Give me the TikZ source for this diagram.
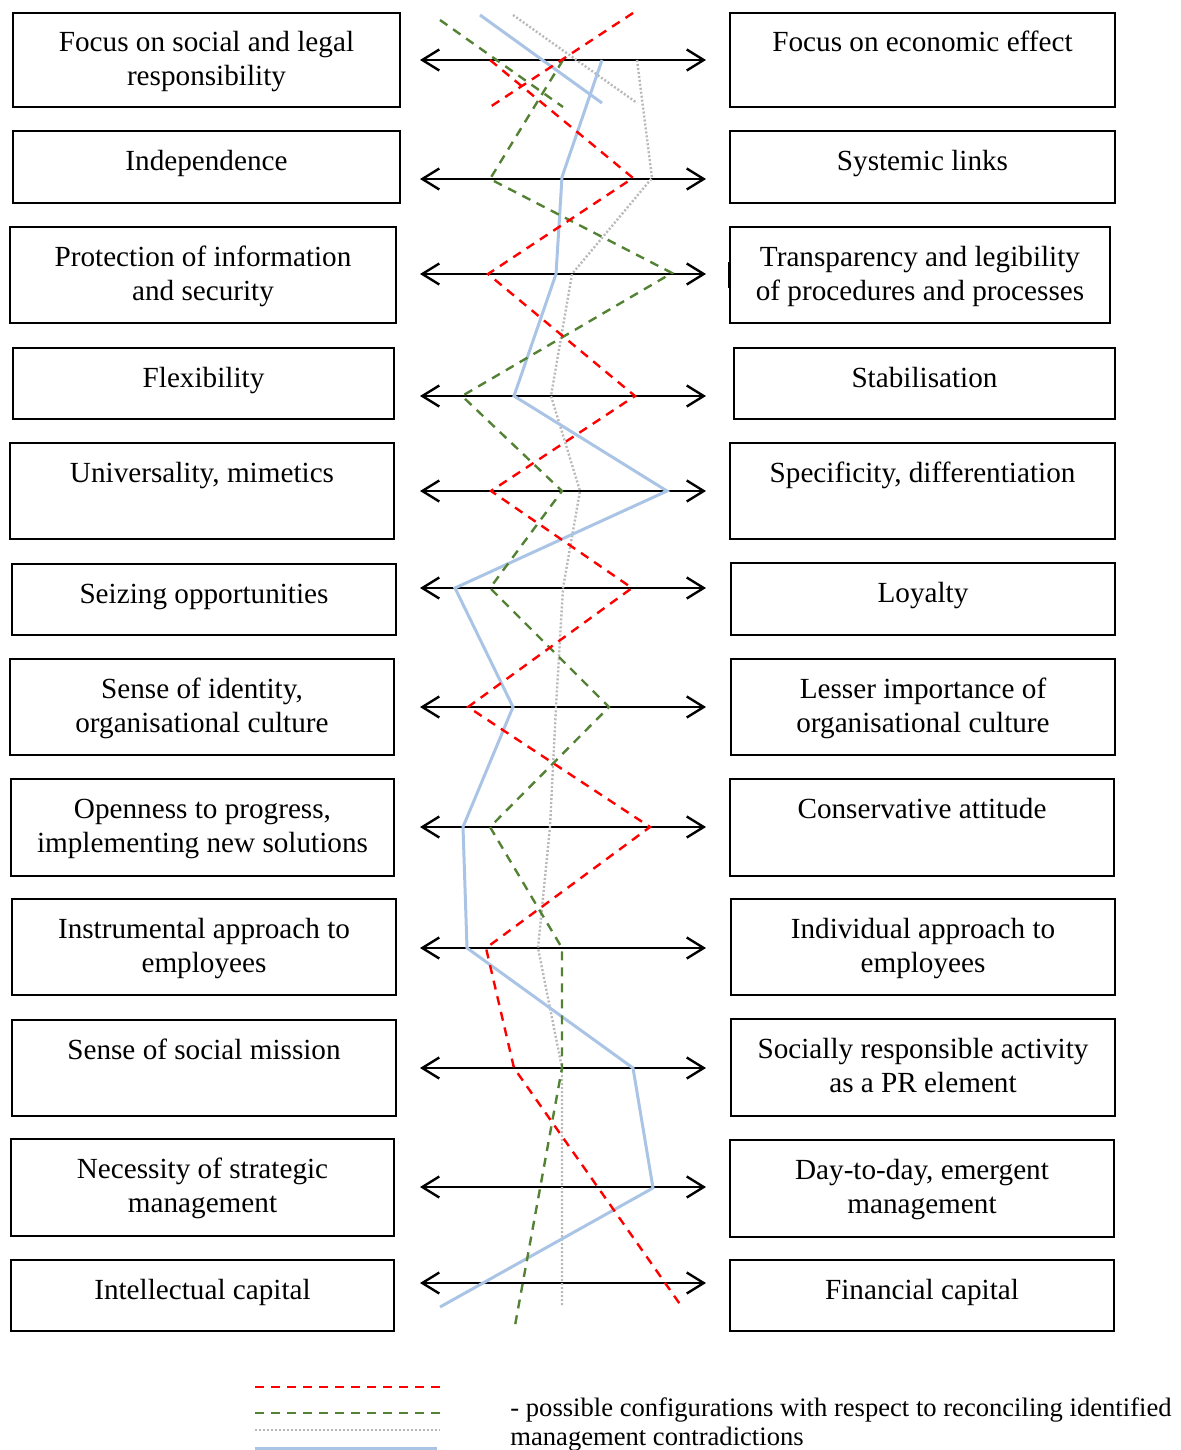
\documentclass[tikz,border=0pt]{standalone}
\usepackage{fontspec}
\setmainfont{Liberation Serif}
\usetikzlibrary{arrows.meta,fit,calc}

\definecolor{cfgred}{RGB}{255,0,0}
\definecolor{cfggreen}{RGB}{84,130,53}
\definecolor{cfggray}{RGB}{185,185,185}
\definecolor{cfgblue}{RGB}{170,196,230}

\tikzset{
  box/.style={draw, line width=1pt, inner sep=0pt},
  boxtext/.style={anchor=base, inner sep=0pt, font=\fontsize{14.6}{17}\selectfont},
  twoway/.style={line width=1.2pt, {Straight Barb[length=8.5pt,width=10.5pt]}-{Straight Barb[length=8.5pt,width=10.5pt]}},
  redcfg/.style={cfgred, line width=1.2pt, dash pattern=on 4.5pt off 3.5pt},
  greencfg/.style={cfggreen, line width=1.2pt, dash pattern=on 4.5pt off 3.5pt},
  graycfg/.style={cfggray, line width=1.2pt, dash pattern=on 1pt off 1pt},
  bluecfg/.style={cfgblue, line width=1.5pt},
  legendtext/.style={anchor=base west, inner sep=0pt, font=\fontsize{13.3}{14.5}\selectfont}
}

\begin{document}
\begin{tikzpicture}[x=0.5pt,y=-0.5pt]
    \useasboundingbox (0,0) rectangle (1181,1450);

    % Left column of boxes
    \foreach \i/\xa/\ya/\xb/\yb/\txt in {
        1/13/13/400/107/{Focus on social and legal\\responsibility},
        2/13/131/400/203/{Independence},
        3/10/227/396/323/{Protection of information\\and security},
        4/13/348/394/419/{Flexibility},
        5/10/443/394/539/{Universality, mimetics},
        6/12/564/396/635/{Seizing opportunities},
        7/10/659/394/755/{Sense of identity,\\organisational culture},
        8/11/779/394/876/{Openness to progress,\\implementing new solutions},
        9/12/899/396/995/{Instrumental approach to\\employees},
        10/12/1020/396/1116/{Sense of social mission},
        11/11/1139/394/1236/{Necessity of strategic\\management},
        12/11/1260/394/1331/{Intellectual capital}} {
        \node[box, fit={(\xa,\ya) (\xb,\yb)}] (l\i) {};
        \node[boxtext] (lt\i) at ($(l\i.north)+(0,40)$) {\begin{tabular}[t]{@{}c@{}}\txt\end{tabular}};
    }

    % Right column of boxes
    \foreach \i/\xa/\ya/\xb/\yb/\txt in {
        1/730/13/1115/107/{Focus on economic effect},
        2/730/131/1115/203/{Systemic links},
        3/730/227/1110/323/{Transparency and legibility\\of procedures and processes},
        4/734/348/1115/419/{Stabilisation},
        5/730/443/1115/539/{Specificity, differentiation},
        6/731/563/1115/635/{Loyalty},
        7/731/659/1115/755/{Lesser importance of\\organisational culture},
        8/730/779/1114/876/{Conservative attitude},
        9/731/899/1115/995/{Individual approach to\\employees},
        10/731/1019/1115/1116/{Socially responsible activity\\as a PR element},
        11/730/1140/1114/1237/{Day-to-day, emergent\\management},
        12/730/1260/1114/1331/{Financial capital}} {
        \node[box, fit={(\xa,\ya) (\xb,\yb)}] (r\i) {};
        \node[boxtext] (rt\i) at ($(r\i.north)+(0,40)$) {\begin{tabular}[t]{@{}c@{}}\txt\end{tabular}};
    }
    \draw[line width=1pt] (729,262) -- (729,288);

    % Two-way arrows between the opposite poles
    \foreach \i/\y in {1/60,2/179,3/274,4/396,5/491,6/588,7/707,8/827,9/948,10/1068,11/1187,12/1283} {
        \coordinate (p\i) at (420,\y);
        \coordinate (q\i) at (706,\y);
        \draw[twoway] (p\i) -- (q\i);
    }

    % Configurations
    \draw[graycfg] (513,15) -- (637,103);
    \draw[graycfg] (637,60) -- (652,178) -- (572,274) -- (551,396) -- (580,491) -- (563,588)
        -- (556,707) -- (550,827) -- (538,948) -- (562,1068) -- (562,1307);
    \draw[bluecfg] (480,15) -- (602,103);
    \draw[bluecfg] (602,60) -- (562,177) -- (556,274) -- (514,396) -- (667,491) -- (455,588)
        -- (513,707) -- (463,827) -- (467,948) -- (633,1068) -- (653,1188) -- (440,1307);
    \draw[greencfg] (440,20) -- (563,107);
    \draw[greencfg] (563,60) -- (490,179) -- (672,273) -- (462,396) -- (562,491) -- (490,588)
        -- (609,707) -- (490,827) -- (562,948) -- (562,1068) -- (514,1331);
    \draw[redcfg] (633,13) -- (490,107);
    \draw[redcfg] (490,60) -- (633,178) -- (488,274) -- (635,396) -- (491,491) -- (632,588)
        -- (468,707) -- (650,827) -- (486,948) -- (514,1068) -- (682,1307);

    % Legend
    \draw[redcfg] (255,1387) -- (440,1387);
    \draw[greencfg] (255,1413) -- (440,1413);
    \draw[graycfg] (255,1430) -- (440,1430);
    \draw[bluecfg] (255,1448) -- (437,1448);
    \node[legendtext] (legend) at (510,1416) {\begin{tabular}[t]{@{}l@{}}- possible configurations with respect to reconciling identified\\management contradictions\end{tabular}};
\end{tikzpicture}
\end{document}
